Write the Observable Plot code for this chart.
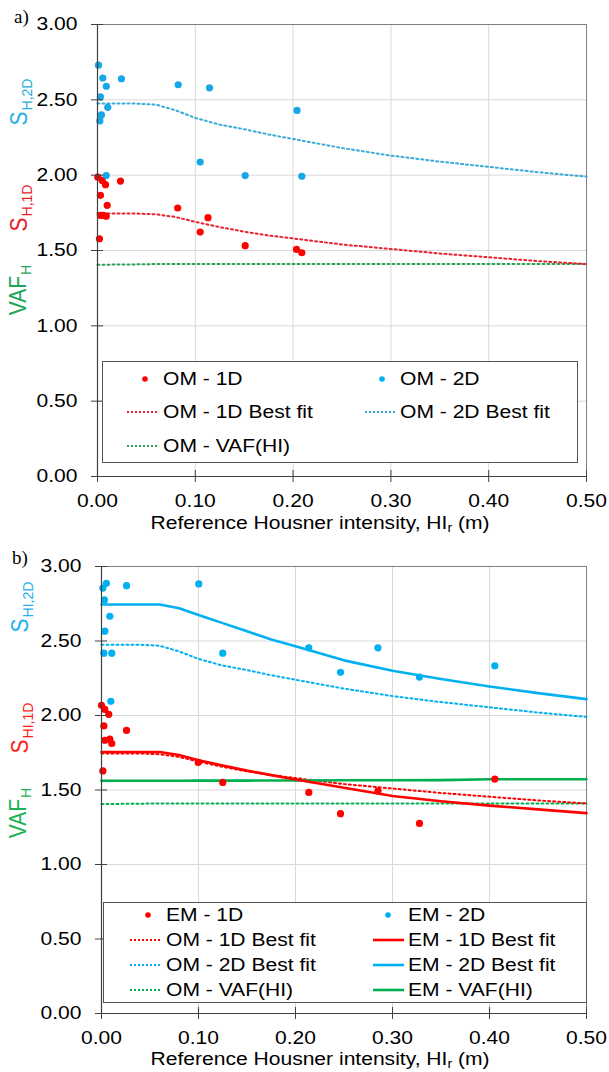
<!DOCTYPE html>
<html><head><meta charset="utf-8">
<script src="https://cdn.jsdelivr.net/npm/d3@7"></script>
<script src="https://cdn.jsdelivr.net/npm/@observablehq/plot@0.6"></script>
<style>
body{margin:0;background:#fff;}
#root{position:relative;width:609px;height:1072px;overflow:hidden;font-family:'Liberation Sans',Arial,sans-serif;color:#000;}
.abs{position:absolute;white-space:nowrap;}
.plot{position:absolute;left:0;}
</style></head><body><div id="root"></div>
<script>
// ---------- ticks ----------
const xTicks = [0, 0.1, 0.2, 0.3, 0.4, 0.5];
const yTicks = [0, 0.5, 1, 1.5, 2, 2.5, 3];

// ---------- panel a) OM data ----------
const om1dX = [0.0003, 0.0048, 0.0082, 0.003, 0.0099, 0.003, 0.006, 0.0089, 0.002, 0.0235, 0.082, 0.113, 0.105, 0.151, 0.2035, 0.2089];
const om1dY = [1.987, 1.965, 1.937, 1.866, 1.80, 1.733, 1.733, 1.728, 1.578, 1.961, 1.782, 1.718, 1.622, 1.532, 1.507, 1.485];
const om2dX = [0.001, 0.0054, 0.009, 0.003, 0.004, 0.0024, 0.0105, 0.0089, 0.0245, 0.0825, 0.1145, 0.105, 0.151, 0.204, 0.2089];
const om2dY = [2.73, 2.645, 2.59, 2.52, 2.40, 2.36, 2.45, 1.997, 2.64, 2.60, 2.58, 2.087, 1.997, 2.43, 1.992];

// ---------- best fit curves ----------
const fitX     = [0, 0.02, 0.04, 0.06, 0.08, 0.1, 0.125, 0.15, 0.175, 0.2, 0.25, 0.3, 0.35, 0.4, 0.45, 0.5];
const om1dFit  = [1.745, 1.745, 1.745, 1.74, 1.722, 1.69, 1.655, 1.625, 1.60, 1.58, 1.54, 1.51, 1.48, 1.455, 1.43, 1.41];
const om2dFit  = [2.475, 2.475, 2.475, 2.468, 2.43, 2.38, 2.335, 2.305, 2.27, 2.24, 2.18, 2.13, 2.09, 2.055, 2.02, 1.99];
const omVafFit = [1.405, 1.407, 1.408, 1.41, 1.41, 1.41, 1.41, 1.41, 1.41, 1.41, 1.41, 1.41, 1.41, 1.41, 1.41, 1.41];
const em1dFit  = [1.755, 1.755, 1.755, 1.755, 1.735, 1.70, 1.665, 1.63, 1.60, 1.57, 1.515, 1.46, 1.425, 1.395, 1.37, 1.345];
const em2dFit  = [2.745, 2.745, 2.745, 2.745, 2.72, 2.675, 2.62, 2.565, 2.51, 2.465, 2.37, 2.30, 2.245, 2.195, 2.15, 2.11];
const emVafFit = [1.562, 1.562, 1.562, 1.562, 1.562, 1.563, 1.563, 1.563, 1.564, 1.564, 1.565, 1.565, 1.566, 1.572, 1.572, 1.572];

// ---------- panel b) EM data ----------
const em1dX = [0.0, 0.0034, 0.0075, 0.0024, 0.0034, 0.0086, 0.0106, 0.0014, 0.0258, 0.0997, 0.125, 0.2137, 0.2464, 0.285, 0.3278, 0.4055];
const em1dY = [2.068, 2.041, 2.008, 1.93, 1.834, 1.841, 1.812, 1.628, 1.90, 1.685, 1.551, 1.484, 1.341, 1.495, 1.276, 1.573];
const em2dX = [0.0014, 0.005, 0.003, 0.0086, 0.0034, 0.0024, 0.0106, 0.0096, 0.0258, 0.1003, 0.125, 0.2137, 0.2464, 0.285, 0.3278, 0.4055];
const em2dY = [2.855, 2.887, 2.776, 2.666, 2.566, 2.418, 2.418, 2.095, 2.871, 2.883, 2.418, 2.454, 2.29, 2.454, 2.258, 2.334];

// ---------- legend labels ----------
const legendA = [["OM - 1D", "OM - 2D"], ["OM - 1D Best fit", "OM - 2D Best fit"], ["OM - VAF(HI)", null]];
const legendB = [["EM - 1D", "EM - 2D"], ["OM - 1D Best fit", "EM - 1D Best fit"], ["OM - 2D Best fit", "EM - 2D Best fit"], ["OM - VAF(HI)", "EM - VAF(HI)"]];

// ---------- styles ----------
const RED = "#ff0000", BLUE_A = "#17a6e6", BLUE = "#00b0f0", GREEN = "#00b050";
const DOT = "2 3";
const SX = 1.17; // horizontal stretch of the original figure's glyphs

const root = document.getElementById("root");
const pts = (xs, ys) => xs.map((x, i) => ({x, y: ys[i]}));
const f2 = d3.format(".2f");

function panel({top, height, mt, mb, ml, series}) {
  const marks = [
    Plot.gridX(xTicks, {stroke: "#d9d9d9", strokeOpacity: 1}),
    Plot.gridY(yTicks, {stroke: "#d9d9d9", strokeOpacity: 1}),
    Plot.frame({stroke: "#7f7f7f"}),
    ...series,
    Plot.ruleX([0], {stroke: "#404040", strokeWidth: 1.2}),
    Plot.ruleY([0], {stroke: "#404040", strokeWidth: 1.2}),
    Plot.ruleX(xTicks, {x: d => d, y1: -0.04, y2: 0.04, stroke: "#404040"}),
    Plot.ruleY(yTicks, {y: d => d, x1: -0.0062, x2: 0.0062, stroke: "#404040"}),
    Plot.axisX(xTicks, {tickSize: 0, tickPadding: 18, tickFormat: f2, label: null, fontSize: 18}),
    Plot.axisY(yTicks, {tickSize: 0, tickPadding: 20, tickFormat: f2, label: null, fontSize: 18})
  ];
  const chart = Plot.plot({
    width: 609, height, marginLeft: ml, marginRight: 23, marginTop: mt, marginBottom: mb,
    x: {domain: [0, 0.5]}, y: {domain: [0, 3]},
    style: {fontFamily: "'Liberation Sans', Arial, sans-serif", fontSize: "18px", color: "#000", background: "transparent", overflow: "visible"},
    marks
  });
  // widen tick-label glyphs like the original (scale about each label's anchor)
  chart.querySelectorAll('g[aria-label$="tick label"] text').forEach(t => {
    const tr = t.getAttribute("transform");
    if (tr && tr.includes("translate")) t.setAttribute("transform", tr + ` scale(${SX},1)`);
    else {
      const x = +(t.getAttribute("x") || 0);
      t.setAttribute("transform", `translate(${x},0) scale(${SX},1) translate(${-x},0)`);
    }
  });
  chart.classList.add("plot");
  chart.style.position = "absolute";
  chart.style.top = top + "px";
  root.appendChild(chart);
}

// Panel a
panel({
  top: 0, height: 540, mt: 24, mb: 64, ml: 97,
  series: [
    Plot.line(pts(fitX, omVafFit), {x: "x", y: "y", stroke: "#2ca05a", strokeWidth: 2, strokeDasharray: DOT}),
    Plot.line(pts(fitX, om1dFit), {x: "x", y: "y", stroke: "#e8222f", strokeWidth: 2, strokeDasharray: DOT}),
    Plot.line(pts(fitX, om2dFit), {x: "x", y: "y", stroke: "#3aaad8", strokeWidth: 2, strokeDasharray: DOT}),
    Plot.dot(pts(om1dX, om1dY), {x: "x", y: "y", r: 3.6, fill: RED}),
    Plot.dot(pts(om2dX, om2dY), {x: "x", y: "y", r: 3.6, fill: BLUE_A})
  ]
});

// Panel b
panel({
  top: 540, height: 532, mt: 26, mb: 59, ml: 101,
  series: [
    Plot.line(pts(fitX, omVafFit), {x: "x", y: "y", stroke: GREEN, strokeWidth: 2, strokeDasharray: DOT}),
    Plot.line(pts(fitX, om1dFit), {x: "x", y: "y", stroke: RED, strokeWidth: 2, strokeDasharray: DOT}),
    Plot.line(pts(fitX, om2dFit), {x: "x", y: "y", stroke: BLUE, strokeWidth: 2, strokeDasharray: DOT}),
    Plot.line(pts(fitX, emVafFit), {x: "x", y: "y", stroke: GREEN, strokeWidth: 2.6}),
    Plot.line(pts(fitX, em1dFit), {x: "x", y: "y", stroke: RED, strokeWidth: 2.6}),
    Plot.line(pts(fitX, em2dFit), {x: "x", y: "y", stroke: BLUE, strokeWidth: 2.6}),
    Plot.dot(pts(em1dX, em1dY), {x: "x", y: "y", r: 3.6, fill: RED}),
    Plot.dot(pts(em2dX, em2dY), {x: "x", y: "y", r: 3.6, fill: BLUE})
  ]
});

// ---------- HTML overlays ----------
function add(html, css) {
  const d = document.createElement("div");
  d.className = "abs";
  d.innerHTML = html;
  Object.assign(d.style, css);
  root.appendChild(d);
  return d;
}
// panel letters
add("a)", {left: "14px", top: "7px", fontFamily: "'Liberation Serif','Times New Roman',serif", fontSize: "19px", lineHeight: "19px"});
add("b)", {left: "12px", top: "548px", fontFamily: "'Liberation Serif','Times New Roman',serif", fontSize: "19px", lineHeight: "19px"});

// axis titles
const xTitle = 'Reference Housner intensity, HI<span style="font-size:12px;vertical-align:-3px">r</span> (m)';
[514, 1050].forEach(t => add(xTitle, {left: "320px", top: t + "px", transform: `translateX(-50%) scaleX(${SX})`, transformOrigin: "50% 50%", fontSize: "18px", lineHeight: "18px"}));

// rotated y labels
function ylab(main, sub, color, cx, cy) {
  return add(main + '<span style="font-size:14px;position:relative;top:5px;margin-left:1px">' + sub + '</span>',
    {left: cx + "px", top: cy + "px", color, fontSize: "21px", lineHeight: "22px",
     transform: `translate(-50%,-50%) scaleX(1.1) rotate(-90deg)`, transformOrigin: "50% 50%"});
}
ylab("S", "H,2D", "#26aee0", 20, 102);
ylab("S", "H,1D", "#e81c2a", 20, 208);
ylab("VAF", "H", "#1fa55a", 19, 290);
ylab("S", "HI,2D", "#1eb0f0", 21, 607);
ylab("S", "HI,1D", "#ff1a1a", 21, 728);
ylab("VAF", "H", "#1db354", 19, 813);

// legends
function swatch(kind, color, cx, cy, x1, x2) {
  let el;
  if (kind === "dot") {
    el = `<svg width="10" height="10" style="position:absolute;left:${cx - 5}px;top:${cy - 5}px"><circle cx="5" cy="5" r="2.8" fill="${color}"/></svg>`;
  } else {
    const w = x2 - x1;
    const dash = kind === "dotted" ? `stroke-dasharray="2 2"` : "";
    const sw = kind === "dotted" ? 2 : 2.6;
    el = `<svg width="${w}" height="6" style="position:absolute;left:${x1}px;top:${cy - 3}px"><line x1="0" x2="${w}" y1="3" y2="3" stroke="${color}" stroke-width="${sw}" ${dash}/></svg>`;
  }
  root.insertAdjacentHTML("beforeend", el);
}
function styleFor(label) {
  const red = /1D/.test(label), blue = /2D/.test(label);
  const color = red ? RED : blue ? BLUE : GREEN;
  const kind = /Best fit|VAF/.test(label) ? (label.startsWith("OM") ? "dotted" : "solid") : "dot";
  return {color, kind};
}
const dottedA = {[RED]: "#e8222f", [BLUE]: "#3aaad8", [GREEN]: "#2ca05a"};
function legend(rows, box, geo) {
  add("", {left: box.l + "px", top: box.t + "px", width: box.w + "px", height: box.h + "px",
    border: "1.5px solid #555", background: "#fff", boxSizing: "border-box"});
  rows.forEach((row, r) => {
    const cy = geo.y0 + r * geo.dy;
    row.forEach((label, c) => {
      if (!label) return;
      const g = geo.cols[c];
      const {color, kind} = styleFor(label);
      const col = geo.panel === "a" && kind === "dotted" ? dottedA[color] : color;
      swatch(kind, col, g.dot, cy, g.l1, g.l2);
      add(label, {left: g.text + "px", top: (cy - geo.fs * 0.49) + "px", fontSize: geo.fs + "px", lineHeight: geo.fs + "px",
        transform: `scaleX(${SX})`, transformOrigin: "0 50%"});
    });
  });
}
legend(legendA, {l: 102, t: 361, w: 476, h: 102},
  {panel: "a", y0: 378.5, dy: 33.5, fs: 18,
   cols: [{dot: 145, l1: 127, l2: 158, text: 163}, {dot: 382, l1: 365, l2: 397, text: 400}]});
legend(legendB, {l: 103, t: 902, w: 484, h: 101},
  {panel: "b", y0: 914.5, dy: 25, fs: 18,
   cols: [{dot: 148, l1: 130, l2: 162, text: 166}, {dot: 388, l1: 373, l2: 404, text: 408}]});
</script>
</body></html>
